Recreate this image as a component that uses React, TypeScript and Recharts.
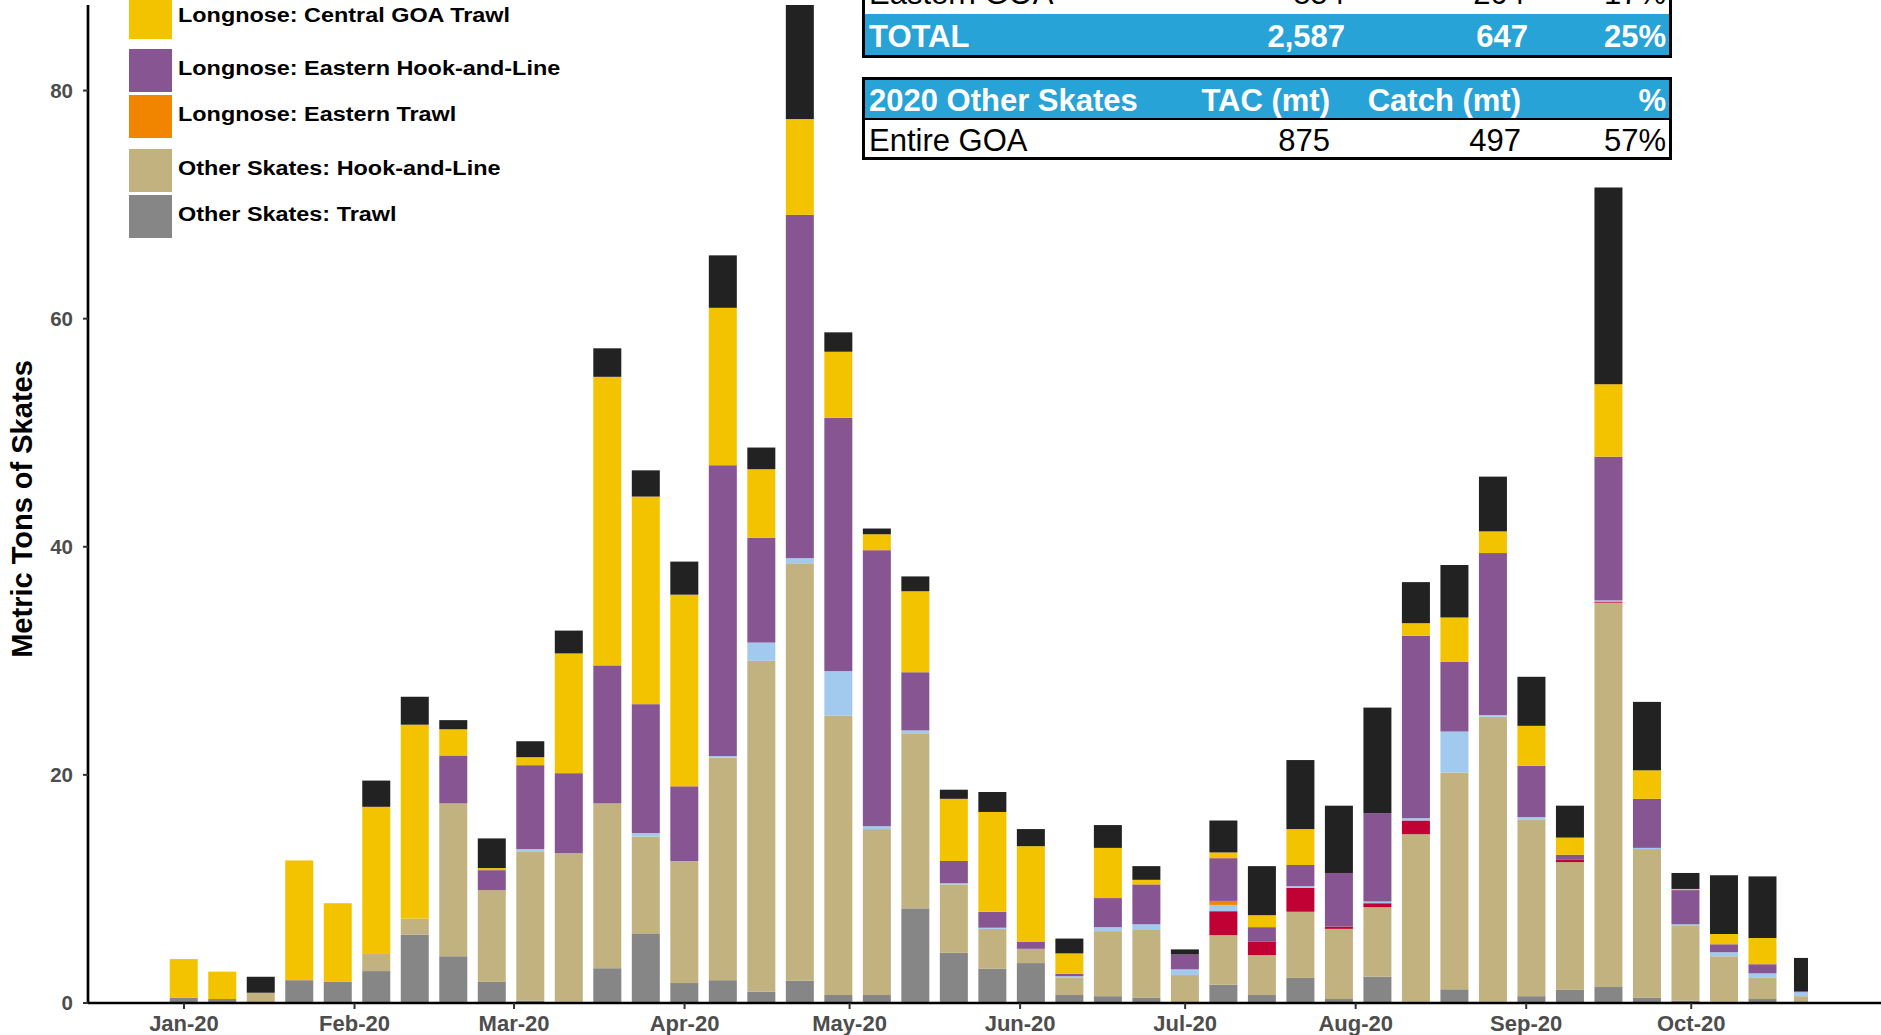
import React from 'react';
import { BarChart, Bar, XAxis, YAxis, Label } from 'recharts';

// ---------- DATA ----------
const weekDates = [
  '2020-01-01', '2020-01-08', '2020-01-15', '2020-01-22', '2020-01-29',
  '2020-02-05', '2020-02-12', '2020-02-19', '2020-02-26',
  '2020-03-04', '2020-03-11', '2020-03-18', '2020-03-25',
  '2020-04-01', '2020-04-08', '2020-04-15', '2020-04-22', '2020-04-29',
  '2020-05-06', '2020-05-13', '2020-05-20', '2020-05-27',
  '2020-06-03', '2020-06-10', '2020-06-17', '2020-06-24',
  '2020-07-01', '2020-07-08', '2020-07-15', '2020-07-22', '2020-07-29',
  '2020-08-05', '2020-08-12', '2020-08-19', '2020-08-26',
  '2020-09-02', '2020-09-09', '2020-09-16', '2020-09-23', '2020-09-30',
  '2020-10-07', '2020-10-14', '2020-10-21',
];

const otherSkatesTrawl = [
  0.45, 0.35, 0, 2.0, 1.85, 2.8, 6.0, 4.1, 1.85, 0.2, 0.1, 3.05, 6.05, 1.75,
  2.0, 1.0, 1.95, 0.7, 0.7, 8.3, 4.4, 3.0, 3.5, 0.7, 0.6, 0.45, 0, 1.6,
  0.7, 2.2, 0.35, 2.3, 0.1, 1.2, 0.1, 0.6, 1.15, 1.4, 0.45, 0.2, 0.1, 0.35, 0,
];
const otherSkatesHookLine = [
  0, 0, 0.9, 0, 0, 1.5, 1.4, 13.4, 8.05, 13.1, 13.05, 14.45, 8.55, 10.7,
  19.5, 29.0, 36.6, 24.5, 14.55, 15.35, 6.0, 3.5, 1.25, 1.5, 5.7, 5.95, 2.45, 4.35,
  3.5, 5.8, 6.15, 6.1, 14.7, 19.0, 25.0, 15.5, 11.2, 33.7, 13.05, 6.55, 4.0, 1.85, 0.6,
];
const longnoseWesternTrawl = [
  0, 0, 0, 0, 0, 0, 0, 0, 0, 0, 0, 0, 0, 0,
  0, 0, 0, 0, 0, 0, 0, 0, 0, 0, 0, 0, 0, 2.1,
  1.2, 2.1, 0.2, 0.35, 1.2, 0, 0, 0, 0.2, 0.1, 0, 0, 0, 0, 0,
];
const longnoseWesternHookLine = [
  0, 0, 0, 0, 0, 0, 0, 0, 0, 0.2, 0, 0, 0.3, 0,
  0.15, 1.6, 0.45, 3.9, 0.25, 0.25, 0.1, 0.1, 0, 0.15, 0.35, 0.5, 0.5, 0.55,
  0, 0.15, 0, 0.15, 0.2, 3.6, 0.15, 0.2, 0, 0.1, 0.1, 0.15, 0.35, 0.4, 0.35,
];
const longnoseEasternTrawl = [
  0, 0, 0, 0, 0, 0, 0, 0, 0, 0, 0, 0, 0, 0,
  0, 0, 0, 0, 0, 0, 0, 0, 0, 0, 0, 0, 0, 0.35,
  0, 0, 0, 0, 0, 0, 0, 0, 0, 0, 0, 0, 0, 0, 0,
];
const longnoseEasternHookLine = [
  0, 0, 0, 0, 0, 0, 0, 4.2, 1.75, 7.35, 7.0, 12.1, 11.3, 6.55,
  25.5, 9.2, 30.1, 22.2, 24.2, 5.1, 1.95, 1.4, 0.6, 0.2, 2.55, 3.5, 1.3, 3.75,
  1.25, 1.85, 4.7, 7.75, 16.0, 6.1, 14.2, 4.5, 0.45, 12.6, 4.3, 3.0, 0.7, 0.8, 0.1,
];
const longnoseCentralTrawl = [
  3.4, 2.4, 0, 10.5, 6.9, 12.9, 17.0, 2.3, 0.18, 0.7, 10.5, 25.3, 18.2, 16.8,
  13.8, 6.0, 8.4, 5.8, 1.4, 7.1, 5.45, 8.75, 8.4, 1.8, 4.4, 0.4, 0, 0.5,
  1.05, 3.15, 0, 0, 1.1, 3.9, 1.9, 3.5, 1.5, 6.35, 2.5, 0.1, 0.9, 2.3, 0,
];
const longnoseCentralHookLine = [
  0, 0, 1.4, 0, 0, 2.3, 2.45, 0.8, 2.6, 1.4, 2.0, 2.5, 2.3, 2.9,
  4.6, 1.9, 10.0, 1.7, 0.5, 1.3, 0.8, 1.75, 1.5, 1.3, 2.0, 1.2, 0.45, 2.8,
  4.3, 6.05, 5.9, 9.25, 3.6, 4.6, 4.8, 4.3, 2.8, 17.25, 6.0, 1.4, 5.15, 5.4, 2.9,
];

const monthTickDates = [
  '2020-01-01', '2020-02-01', '2020-03-01', '2020-04-01', '2020-05-01',
  '2020-06-01', '2020-07-01', '2020-08-01', '2020-09-01', '2020-10-01',
];
const monthTickLabels = ['Jan-20', 'Feb-20', 'Mar-20', 'Apr-20', 'May-20', 'Jun-20', 'Jul-20', 'Aug-20', 'Sep-20', 'Oct-20'];
const yTicks = [0, 20, 40, 60, 80];
const yMax = 87.5;

const legendNames = [
  'Longnose: Central GOA Trawl',
  'Longnose: Eastern Hook-and-Line',
  'Longnose: Eastern Trawl',
  'Other Skates: Hook-and-Line',
  'Other Skates: Trawl',
];

const longnoseTableRows = [
  ['Eastern GOA', '854', '204', '17%'],
  ['TOTAL', '2,587', '647', '25%'],
];
const otherTableHeader = ['2020 Other Skates', 'TAC (mt)', 'Catch (mt)', '%'];
const otherTableRow = ['Entire GOA', '875', '497', '57%'];

// ---------- STYLE ----------
const FONT = "'Liberation Sans', Arial, Helvetica, sans-serif";
const COLORS = {
  gray: '#868686',
  tan: '#C2B280',
  red: '#C10034',
  lightBlue: '#A2CAEE',
  orange: '#F28500',
  purple: '#875692',
  yellow: '#F3C300',
  black: '#222222',
  tableBlue: '#27A3D7',
};

const series = [
  { key: 'otherTrawl', name: 'Other Skates: Trawl', values: otherSkatesTrawl, color: COLORS.gray },
  { key: 'otherHal', name: 'Other Skates: Hook-and-Line', values: otherSkatesHookLine, color: COLORS.tan },
  { key: 'lnWTrawl', name: 'Longnose: Western GOA Trawl', values: longnoseWesternTrawl, color: COLORS.red },
  { key: 'lnWHal', name: 'Longnose: Western GOA Hook-and-Line', values: longnoseWesternHookLine, color: COLORS.lightBlue },
  { key: 'lnETrawl', name: 'Longnose: Eastern Trawl', values: longnoseEasternTrawl, color: COLORS.orange },
  { key: 'lnEHal', name: 'Longnose: Eastern Hook-and-Line', values: longnoseEasternHookLine, color: COLORS.purple },
  { key: 'lnCTrawl', name: 'Longnose: Central GOA Trawl', values: longnoseCentralTrawl, color: COLORS.yellow },
  { key: 'lnCHal', name: 'Longnose: Central GOA Hook-and-Line', values: longnoseCentralHookLine, color: COLORS.black },
];

const legendColors = [COLORS.yellow, COLORS.purple, COLORS.orange, COLORS.tan, COLORS.gray];
const legendTops = [-4, 49, 95, 149, 195];

const dayOf = (s: string) => {
  const [y, m, d] = s.split('-').map(Number);
  return (Date.UTC(y, m - 1, d) - Date.UTC(2020, 0, 1)) / 86400000;
};

const data = weekDates.map((date, i) => {
  const row: any = { date, day: dayOf(date) };
  series.forEach((s) => {
    row[s.key] = s.values[i];
  });
  return row;
});

const monthTicks = monthTickDates.map(dayOf);
const tickLabelByDay: Record<number, string> = {};
monthTicks.forEach((d, i) => {
  tickLabelByDay[d] = monthTickLabels[i];
});

const lastIndex = weekDates.length - 1;

const BarShape = (p: any) => {
  const { x, y, width, height, fill, index } = p;
  if (!height || height <= 0) return <g />;
  const partial = index === lastIndex;
  const w = partial ? width / 2 : width;
  const xx = partial ? x + width / 4 : x;
  return <rect x={xx} y={y} width={w} height={height} fill={fill} />;
};

const XTick = (p: any) => {
  const { x, y, payload } = p;
  return (
    <text x={x} y={y} dy="0.71em" textAnchor="middle" fill="#4D4D4D" fontSize={22} fontWeight="bold" fontFamily={FONT}>
      {tickLabelByDay[payload.value]}
    </text>
  );
};

const YTick = (p: any) => {
  const { x, y, payload } = p;
  return (
    <text x={x} y={y} dy="0.355em" textAnchor="end" fill="#4D4D4D" fontSize={20.5} fontWeight="bold" fontFamily={FONT}>
      {payload.value}
    </text>
  );
};

const YTitle = (p: any) => {
  const vb = p.viewBox || { y: 5, height: 998 };
  const cy = vb.y + vb.height / 2 + 5;
  const cx = 22;
  return (
    <text
      x={cx}
      y={cy}
      transform={`rotate(-90, ${cx}, ${cy})`}
      textAnchor="middle"
      dominantBaseline="central"
      fontSize={29}
      fontWeight="bold"
      fill="#000"
      fontFamily={FONT}
    >
      Metric Tons of Skates
    </text>
  );
};

const Legend = () => (
  <>
    {legendNames.map((name, i) => (
      <div
        key={name}
        style={{ position: 'absolute', left: 129, top: legendTops[i], height: 43, display: 'flex', alignItems: 'center' }}
      >
        <div style={{ width: 43, height: 43, background: legendColors[i] }} />
        <span
          style={{
            display: 'inline-block',
            marginLeft: 6,
            fontFamily: FONT,
            fontWeight: 700,
            fontSize: 19.5,
            color: '#000',
            whiteSpace: 'nowrap',
            transform: 'scaleX(1.2)',
            transformOrigin: 'left center',
            position: 'relative',
            top: -2,
          }}
        >
          {name}
        </span>
      </div>
    ))}
  </>
);

type RowProps = { cells: string[]; height: number; bg: string; color: string; bold: boolean; rights: number[] };
const TableRow = ({ cells, height, bg, color, bold, rights }: RowProps) => (
  <div style={{ position: 'relative', height, background: bg }}>
    {cells.map((c, i) => (
      <span
        key={i}
        style={{
          position: 'absolute',
          top: 2,
          height,
          lineHeight: `${height}px`,
          left: i === 0 ? 4 : undefined,
          right: i === 0 ? undefined : rights[i - 1],
          fontFamily: FONT,
          fontSize: 31,
          fontWeight: bold ? 700 : 400,
          color,
          whiteSpace: 'nowrap',
        }}
      >
        {c}
      </span>
    ))}
  </div>
);

const Tables = () => (
  <>
    <div
      style={{
        position: 'absolute',
        left: 862,
        top: -34,
        width: 804,
        border: '3px solid #000',
      }}
    >
      <TableRow cells={longnoseTableRows[0]} height={45} bg="#fff" color="#000" bold={false} rights={[324, 144, 3]} />
      <TableRow cells={longnoseTableRows[1]} height={41} bg={COLORS.tableBlue} color="#fff" bold rights={[324, 141, 3]} />
    </div>
    <div
      style={{
        position: 'absolute',
        left: 862,
        top: 77,
        width: 804,
        border: '3px solid #000',
      }}
    >
      <TableRow cells={otherTableHeader} height={38} bg={COLORS.tableBlue} color="#fff" bold rights={[339, 148, 3]} />
      <div style={{ height: 2, background: '#000' }} />
      <TableRow cells={otherTableRow} height={37} bg="#fff" color="#000" bold={false} rights={[339, 148, 3]} />
    </div>
  </>
);

export default function App() {
  return (
    <div style={{ position: 'fixed', left: 0, top: 0, width: 1881, height: 1035, overflow: 'hidden', background: '#fff' }}>
      <BarChart width={1881} height={1035} data={data} margin={{ top: 5, right: 0, bottom: 0, left: 0 }} barSize={28}>
        <XAxis
          type="number"
          dataKey="day"
          domain={[-17.45, 308.5]}
          allowDataOverflow
          ticks={monthTicks}
          interval={0}
          height={32}
          tick={<XTick />}
          tickSize={6}
          tickMargin={6}
          axisLine={{ stroke: '#000', strokeWidth: 2.5 }}
          tickLine={{ stroke: '#333', strokeWidth: 2 }}
        />
        <YAxis
          type="number"
          domain={[0, yMax]}
          allowDataOverflow
          ticks={yTicks}
          interval={0}
          width={88}
          tick={<YTick />}
          tickSize={5}
          tickMargin={10}
          axisLine={{ stroke: '#000', strokeWidth: 2.7 }}
          tickLine={{ stroke: '#333', strokeWidth: 2 }}
        >
          <Label content={<YTitle />} />
        </YAxis>
        {series.map((s) => (
          <Bar
            key={s.key}
            dataKey={s.key}
            name={s.name}
            stackId="a"
            fill={s.color}
            isAnimationActive={false}
            shape={<BarShape />}
          />
        ))}
      </BarChart>
      <Legend />
      <Tables />
    </div>
  );
}
